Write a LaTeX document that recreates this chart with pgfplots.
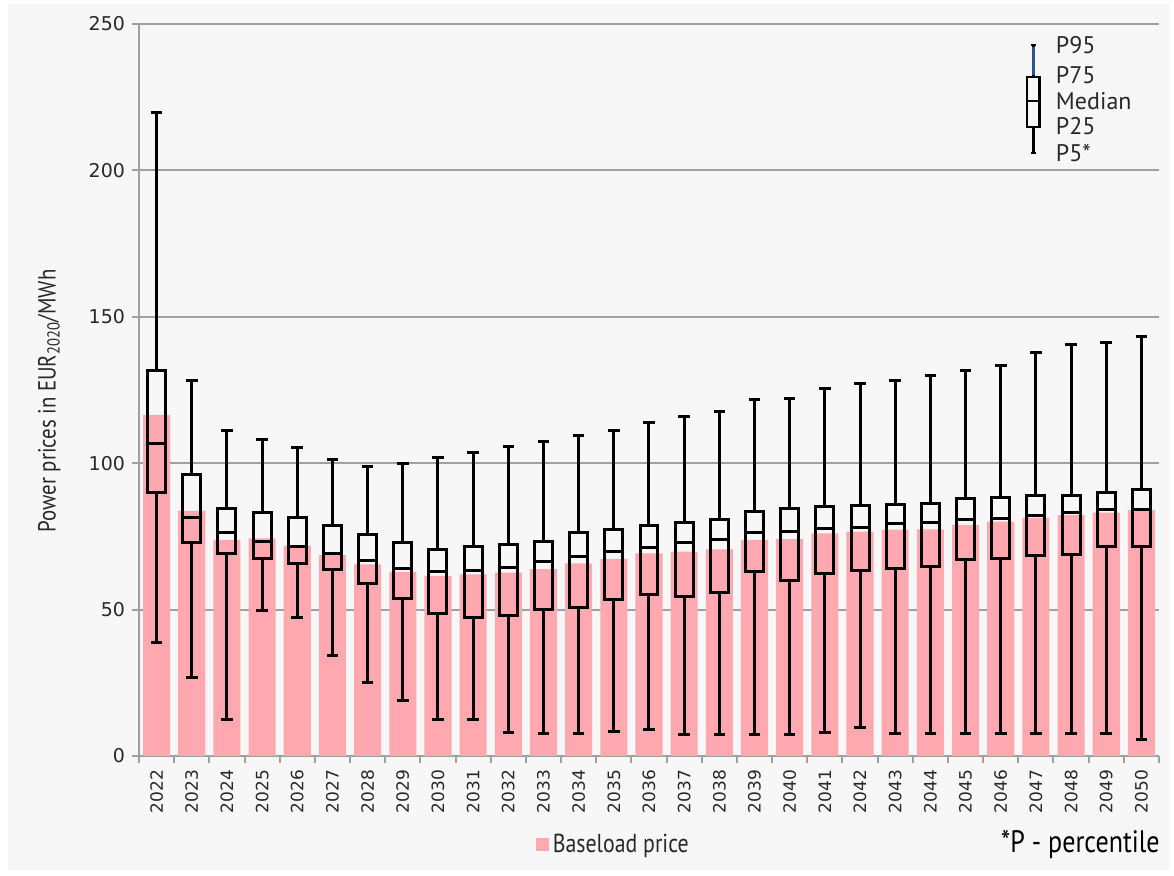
\documentclass[border=0pt]{standalone}
\usepackage{pgfplots}
\pgfplotsset{compat=1.18}
\usepackage{pgfplotstable}
\usepgfplotslibrary{statistics}
\usepackage{fontspec}
\setmainfont{PT Sans}
\newfontfamily\tickfont{DejaVu Sans}
\newfontfamily\narrowfont[FakeStretch=0.84]{PT Sans}
\definecolor{bg}{RGB}{247,247,247}
\definecolor{barpink}{RGB}{255,168,176}
\definecolor{gridgray}{RGB}{160,160,160}
\definecolor{whiskblue}{RGB}{46,84,150}
\definecolor{txt}{RGB}{40,40,40}

\pgfplotstableread{
idx bar p5 p25 med p75 p95
0 116.5 38.7 89.9 106.6 131.8 219.6
1 83.7 26.8 73.0 81.5 96.0 128.2
2 73.8 12.5 69.0 76.3 84.4 111.3
3 74.3 49.6 67.6 73.2 83.1 108.2
4 71.8 47.2 65.8 71.5 81.5 105.3
5 68.6 34.4 63.8 69.2 78.7 101.3
6 65.4 25.0 59.0 66.6 75.8 98.8
7 62.9 18.9 53.8 64.0 72.9 99.9
8 61.5 12.5 48.7 62.9 70.4 101.9
9 62.0 12.5 47.3 63.5 71.7 103.6
10 62.6 8.0 47.9 64.4 72.1 105.7
11 63.8 7.7 50.1 66.4 73.4 107.4
12 65.8 7.7 50.8 68.1 76.3 109.6
13 67.3 8.5 53.3 69.7 77.2 111.3
14 69.2 8.9 55.0 71.2 78.7 113.8
15 69.8 7.5 54.4 72.9 79.7 116.1
16 70.6 7.5 55.9 74.1 80.9 117.8
17 73.8 7.5 62.9 76.3 83.4 121.6
18 74.1 7.5 60.1 76.8 84.4 122.1
19 76.0 8.0 62.3 77.7 85.1 125.6
20 76.6 9.8 63.5 78.0 85.4 127.3
21 77.3 7.6 63.9 79.5 85.9 128.3
22 77.4 7.7 64.7 79.8 86.3 129.8
23 78.9 7.7 67.1 80.6 87.8 131.8
24 80.0 7.7 67.5 81.2 88.3 133.5
25 81.4 7.7 68.6 82.3 88.9 137.8
26 82.3 7.7 68.8 83.2 89.1 140.4
27 83.1 7.7 71.5 84.3 90.0 141.3
28 84.0 5.8 71.7 84.3 91.1 143.2
}\pricedata

\begin{document}
\begin{tikzpicture}
\fill[white] (0pt,0pt) rectangle (587pt,438pt);
\fill[bg] (4pt,3pt) rectangle (585pt,436pt);
\begin{axis}[
  at={(69.5pt,60pt)}, anchor=south west,
  scale only axis, width=510pt, height=366pt,
  xmin=-0.5, xmax=28.5, ymin=0, ymax=250,
  clip=false,
  boxplot/draw direction=y,
  axis x line*=bottom, axis y line*=left,
  axis line style={gridgray, line width=1pt},
  ytick={0,50,...,250},
  ymajorgrids, grid style={gridgray, line width=1pt},
  tick align=outside, major tick length=3.5pt, minor tick length=3.5pt,
  y tick style={gridgray, line width=1pt},
  xtick={0,...,28},
  xticklabels={2022,2023,2024,2025,2026,2027,2028,2029,2030,2031,2032,2033,2034,2035,2036,2037,2038,2039,2040,2041,2042,2043,2044,2045,2046,2047,2048,2049,2050},
  major x tick style={draw=none},
  minor xtick={-0.5,0.5,...,28.5},
  minor x tick style={gridgray, line width=1pt},
  /pgf/number format/assume math mode=true,
  yticklabel style={font=\tickfont\fontsize{9.5}{10}\selectfont, text=txt},
  xticklabel style={font=\tickfont\fontsize{8.5}{10}\selectfont, text=txt, rotate=90, anchor=east},
  ylabel={Power prices in EUR\textsubscript{2020}/MWh},
  ylabel style={at={(axis description cs:-0.088,0.485)}, anchor=center, font=\narrowfont\fontsize{12.4}{14}\selectfont, text=txt},
  legend style={at={(rel axis cs:0.466,-0.1216)}, anchor=center, draw=none, fill=none, font=\narrowfont\fontsize{13}{14}\selectfont, text=txt, inner sep=0pt},
  legend image code/.code={\fill[barpink] (0pt,-3.25pt) rectangle (6.5pt,3.25pt);},
]
\addplot[ybar, bar width=0.77, fill=barpink, draw=none] table[x=idx, y=bar]{\pricedata};
\addlegendentry{Baseload price}

\pgfplotsinvokeforeach{0,...,28}{
  \pgfplotstablegetelem{#1}{p5}\of\pricedata \let\bLW\pgfplotsretval
  \pgfplotstablegetelem{#1}{p25}\of\pricedata \let\bLQ\pgfplotsretval
  \pgfplotstablegetelem{#1}{med}\of\pricedata \let\bMD\pgfplotsretval
  \pgfplotstablegetelem{#1}{p75}\of\pricedata \let\bUQ\pgfplotsretval
  \pgfplotstablegetelem{#1}{p95}\of\pricedata \let\bUW\pgfplotsretval
  \edef\doboxplot{\noexpand\addplot[forget plot, black, line width=1.5pt,
    boxplot prepared={draw position=#1, lower whisker=\bLW, lower quartile=\bLQ, median=\bMD, upper quartile=\bUQ, upper whisker=\bUW, box extend=0.51, whisker extend=0.33}]
    coordinates {};}
  \doboxplot
}

% legend glyph
\addplot[forget plot, black, line width=1.1pt,
  boxplot prepared={draw position=24.93, lower whisker=206, lower quartile=214.9, median=223.7, upper quartile=232, upper whisker=242.8, box extend=0.35, whisker extend=0.14}]
  coordinates {};
\addplot[forget plot, whiskblue, line width=1.1pt] coordinates {(24.93,232.7) (24.93,242.2)};

\node[anchor=west, inner sep=0pt, font=\fontsize{12}{13}\selectfont, text=txt] at (axis cs:25.56,242.8) {P95};
\node[anchor=west, inner sep=0pt, font=\fontsize{12}{13}\selectfont, text=txt] at (axis cs:25.56,232.5) {P75};
\node[anchor=west, inner sep=0pt, font=\fontsize{12}{13}\selectfont, text=txt] at (axis cs:25.56,223.7) {Median};
\node[anchor=west, inner sep=0pt, font=\fontsize{12}{13}\selectfont, text=txt] at (axis cs:25.56,215.2) {P25};
\node[anchor=west, inner sep=0pt, font=\fontsize{12}{13}\selectfont, text=txt] at (axis cs:25.56,206.0) {P5*};

\node[anchor=east, inner sep=0pt, font=\narrowfont\fontsize{15.5}{17}\selectfont, text=black] at (rel axis cs:1.001,-0.1216) {*P - percentile};
\end{axis}
\pgfresetboundingbox
\useasboundingbox (0pt,0pt) rectangle (587pt,438pt);
\end{tikzpicture}
\end{document}
